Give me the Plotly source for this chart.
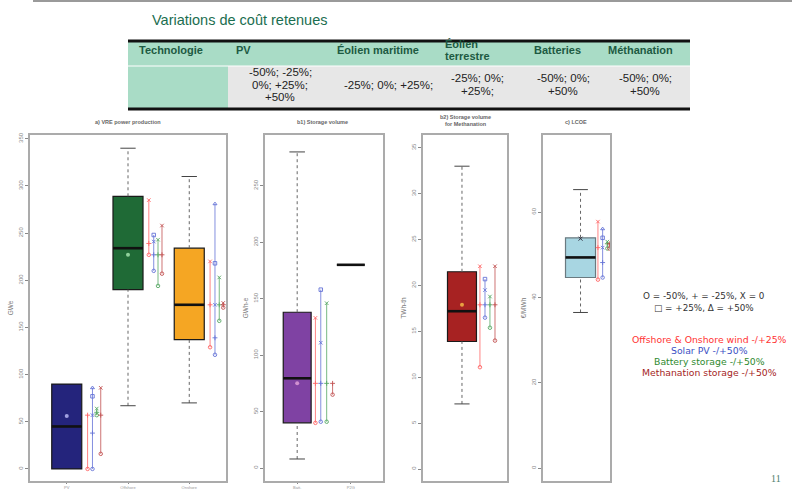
import plotly.graph_objects as go

# ---------------- data ----------------
TABLE_HEADERS = ["Technologie", "PV", "Éolien maritime", "Éolien<br>terrestre", "Batteries", "Méthanation"]
TABLE_VALUES = ["", "-50%; -25%;<br>0%; +25%;<br>+50%", "-25%; 0%; +25%;", "-25%; 0%;<br>+25%;",
                "-50%; 0%;<br>+50%", "-50%; 0%;<br>+50%"]

# a) VRE power production
VRE_CATS = ["PV", "Offshore", "Onshore"]
VRE_Q1 = [0, 190, 137]
VRE_MED = [45, 234, 174]
VRE_Q3 = [90, 289, 234]
VRE_LO = [0, 67, 70]
VRE_HI = [90, 340, 310]
VRE_MEAN = [56, 227, None]
VRE_SENS_WIND = [[0, 57], [227, 239, 285], [129, 174, 220]]
VRE_SENS_PV = [[0, 38, 57, 77, 86], [210, 227, 241, 248], [121, 139, 174, 218, 281]]
VRE_SENS_BATT = [[57, 60, 64], [194, 227, 243], [157, 174, 203]]
VRE_SENS_METH = [[16, 57, 86], [207, 227, 258], [171, 174, 176]]

# b1) Storage volume
STO_CATS = ["Batt.", "P2G"]
STO_Q1 = [40, 180]
STO_MED = [79.5, 180]
STO_Q3 = [138, 180]
STO_LO = [8, 180]
STO_HI = [280, 180]
STO_MEAN = [75, None]
STO_SENS_WIND = [[40, 75, 133]]
STO_SENS_PV = [[41, 75, 111, 158]]
STO_SENS_BATT = [[41, 75, 146]]
STO_SENS_METH = [[65, 75]]

# b2) Storage volume for methanation
METH_Q1 = [13.9]
METH_MED = [17.2]
METH_Q3 = [21.5]
METH_LO = [7.1]
METH_HI = [33.0]
METH_MEAN = [17.9]
METH_SENS_WIND = [[11.1, 17.9, 22.1]]
METH_SENS_PV = [[16.5, 17.9, 19.5, 20.7]]
METH_SENS_BATT = [[15.4, 17.9, 18.8]]
METH_SENS_METH = [[14.0, 17.9, 22.1]]

# c) LCOE
LCOE_Q1 = [44.7]
LCOE_MED = [49.4]
LCOE_Q3 = [54.0]
LCOE_LO = [36.5]
LCOE_HI = [65.3]
LCOE_MEAN = [53.8]
LCOE_SENS_WIND = [[44.2, 51.7, 57.8]]
LCOE_SENS_PV = [[44.7, 48.2, 51.7, 54.0, 56.1]]
LCOE_SENS_BATT = [[51.5, 52.6, 53.1]]
LCOE_SENS_METH = [[51.5, 52.6]]

LEGEND_KEY = ["O = -50%, + = -25%, X = 0", "□ = +25%, Δ = +50%"]
LEGEND_SERIES = ["Offshore & Onshore wind -/+25%", "Solar PV -/+50%",
                 "Battery storage -/+50%", "Methanation storage -/+50%"]

# ---------------- helpers ----------------
W, H = 792, 489


def X(px):
    return px / W


def Y(py):
    return 1 - py / H


SENS_COLORS = ["#ff4a4a", "#4b5bd0", "#3a9a4a", "#b83434"]
LEVEL_SYMBOLS = ["circle-open", "cross-thin-open", "x-thin-open", "square-open", "triangle-up-open"]
FONT = "Liberation Sans, Arial, sans-serif"

fig = go.Figure()


def add_panel(ax, q1, med, q3, lo, hi, mean, colors, box_w, cap_w, sens, offsets,
              line_colors=None, mean_colors=None, mean_symbol="circle"):
    xa = "x" + ax
    ya = "y" + ax
    n = len(q1)
    for i in range(n):
        pos = i + 1
        lc = (line_colors or ["#1a1a1a"] * n)[i]
        flat = q1[i] == q3[i]
        fig.add_trace(go.Box(x=[pos], q1=[q1[i]], median=[med[i]], q3=[q3[i]],
                             lowerfence=[q1[i]], upperfence=[q3[i]], width=box_w,
                             fillcolor=colors[i] if not flat else "rgba(0,0,0,0)",
                             line=dict(color=lc, width=1.2), boxpoints=False,
                             xaxis=xa, yaxis=ya, showlegend=False, hoverinfo="skip"))
        # dotted whiskers and caps
        if hi[i] > q3[i]:
            fig.add_trace(go.Scatter(x=[pos, pos], y=[q3[i], hi[i]], mode="lines",
                                     line=dict(color="#666", width=1, dash="dot"),
                                     xaxis=xa, yaxis=ya, showlegend=False, hoverinfo="skip"))
            fig.add_trace(go.Scatter(x=[pos - cap_w / 2, pos + cap_w / 2], y=[hi[i], hi[i]],
                                     mode="lines", line=dict(color="#444", width=1),
                                     xaxis=xa, yaxis=ya, showlegend=False, hoverinfo="skip"))
        if lo[i] < q1[i]:
            fig.add_trace(go.Scatter(x=[pos, pos], y=[lo[i], q1[i]], mode="lines",
                                     line=dict(color="#666", width=1, dash="dot"),
                                     xaxis=xa, yaxis=ya, showlegend=False, hoverinfo="skip"))
            fig.add_trace(go.Scatter(x=[pos - cap_w / 2, pos + cap_w / 2], y=[lo[i], lo[i]],
                                     mode="lines", line=dict(color="#444", width=1),
                                     xaxis=xa, yaxis=ya, showlegend=False, hoverinfo="skip"))
        # thick median bar
        fig.add_trace(go.Scatter(x=[pos - box_w / 2, pos + box_w / 2], y=[med[i], med[i]],
                                 mode="lines", line=dict(color="#111", width=2.6),
                                 xaxis=xa, yaxis=ya, showlegend=False, hoverinfo="skip"))
        if mean[i] is not None:
            mc = (mean_colors or ["#ccc"] * n)[i]
            fig.add_trace(go.Scatter(x=[pos], y=[mean[i]], mode="markers",
                                     marker=dict(color=mc, size=4, symbol=mean_symbol),
                                     xaxis=xa, yaxis=ya, showlegend=False, hoverinfo="skip"))
    # sensitivity ranges beside each box
    for k, series in enumerate(sens):
        for i, vals in enumerate(series):
            pos = i + 1 + offsets[k]
            vs = sorted(vals)
            fig.add_trace(go.Scatter(
                x=[pos] * len(vs), y=vs, mode="lines+markers",
                line=dict(color=SENS_COLORS[k], width=0.8),
                marker=dict(symbol=LEVEL_SYMBOLS[:len(vs)], size=3.5, color=SENS_COLORS[k],
                            line=dict(color=SENS_COLORS[k], width=0.9)),
                opacity=0.85,
                xaxis=xa, yaxis=ya, showlegend=False, hoverinfo="skip"))


add_panel("", VRE_Q1, VRE_MED, VRE_Q3, VRE_LO, VRE_HI, VRE_MEAN,
          ["#24247c", "#1f6a36", "#f5a623"], 0.49, 0.25,
          [VRE_SENS_WIND, VRE_SENS_PV, VRE_SENS_BATT, VRE_SENS_METH],
          [0.34, 0.42, 0.49, 0.555],
          mean_colors=["#a0a0e0", "#8fd09a", "#fff"])
add_panel("2", STO_Q1, STO_MED, STO_Q3, STO_LO, STO_HI, STO_MEAN,
          ["#7f42a3", "#ffffff"], 0.52, 0.29,
          [STO_SENS_WIND, STO_SENS_PV, STO_SENS_BATT, STO_SENS_METH],
          [0.34, 0.44, 0.55, 0.66],
          mean_colors=["#d090d0", "#fff"])
add_panel("3", METH_Q1, METH_MED, METH_Q3, METH_LO, METH_HI, METH_MEAN,
          ["#a72222"], 0.345, 0.18,
          [METH_SENS_WIND, METH_SENS_PV, METH_SENS_BATT, METH_SENS_METH],
          [0.214, 0.274, 0.333, 0.393],
          mean_colors=["#e8a040"])
add_panel("4", LCOE_Q1, LCOE_MED, LCOE_Q3, LCOE_LO, LCOE_HI, LCOE_MEAN,
          ["#a8d6e2"], 0.448, 0.22,
          [LCOE_SENS_WIND, LCOE_SENS_PV, LCOE_SENS_BATT, LCOE_SENS_METH],
          [0.26, 0.33, 0.40, 0.43],
          line_colors=["#6a7a80"], mean_colors=["#334"], mean_symbol="x-thin-open")

# ---------------- axes ----------------
frame = dict(showline=True, mirror=True, linecolor="#ababab", linewidth=1.6,
             showgrid=False, zeroline=False, automargin=False)
tickfont = dict(family=FONT, size=6, color="#888")

panels = [
    ("", (30, 226), (-12.8, 354), (0.4, 3.6), [0, 50, 100, 150, 200, 250, 300, 350], VRE_CATS, "GWe"),
    ("2", (265, 383), (-11.5, 295), (0.4, 2.6), [0, 50, 100, 150, 200, 250], STO_CATS, "GWh-e"),
    ("3", (423, 507), (-1.3, 36.4), (0.536, 1.536), [0, 5, 10, 15, 20, 25, 30, 35], None, "TWh-th"),
    ("4", (543, 610), (-3.0, 78.1), (0.44, 1.44), [0, 20, 40, 60], None, "€/MWh"),
]
for suf, (x0, x1), yr, xr, yt, cats, ytitle in panels:
    xa = dict(frame, domain=[X(x0), X(x1)], range=list(xr), anchor="y" + suf,
              ticks="outside" if cats else "", ticklen=1, tickcolor="#888",
              tickvals=list(range(1, len(cats) + 1)) if cats else [],
              ticktext=cats if cats else [], ticklabelstandoff=0,
              tickfont=dict(family=FONT, size=4, color="#999"))
    ya = dict(frame, domain=[Y(481), Y(135)], range=list(yr), anchor="x" + suf,
              tickvals=yt, ticks="outside", ticklen=3, tickcolor="#888",
              tickangle=-90, tickfont=tickfont,
              title=dict(text=ytitle, font=dict(family=FONT, size=6.5, color="#777"), standoff=4))
    fig.update_layout(**{"xaxis" + suf: xa, "yaxis" + suf: ya})

# ---------------- panel titles ----------------
panel_titles = [("a) VRE power production", 128, 122), ("b1) Storage volume", 322, 122),
                ("b2) Storage volume<br>for Methanation", 465, 121), ("c) LCOE", 576, 122)]
for txt, px, py in panel_titles:
    fig.add_annotation(x=X(px), y=Y(py), xref="paper", yref="paper", text="<b>" + txt + "</b>",
                       showarrow=False, font=dict(family=FONT, size=5.5, color="#666"),
                       xanchor="center", yanchor="middle")

# ---------------- table ----------------
shapes = []
shapes.append(dict(type="line", xref="paper", yref="paper", x0=X(33), x1=X(792), y0=Y(1), y1=Y(1),
                   line=dict(color="#9a9a9a", width=2)))
shapes.append(dict(type="rect", xref="paper", yref="paper", x0=X(128), x1=X(690), y0=Y(66), y1=Y(42),
                   fillcolor="#a9dcc6", line=dict(width=0), layer="below"))
shapes.append(dict(type="rect", xref="paper", yref="paper", x0=X(128), x1=X(228), y0=Y(108), y1=Y(66),
                   fillcolor="#a9dcc6", line=dict(width=0), layer="below"))
shapes.append(dict(type="rect", xref="paper", yref="paper", x0=X(228), x1=X(690), y0=Y(108), y1=Y(66),
                   fillcolor="#e7e7e7", line=dict(width=0), layer="below"))
for py in (41, 109):
    shapes.append(dict(type="line", xref="paper", yref="paper", x0=X(128), x1=X(690), y0=Y(py), y1=Y(py),
                       line=dict(color="#111", width=3)))
shapes.append(dict(type="line", xref="paper", yref="paper", x0=X(128), x1=X(690), y0=Y(66), y1=Y(66),
                   line=dict(color="#ffffff", width=1)))
fig.update_layout(shapes=shapes)

fig.add_annotation(x=X(150), y=Y(20), xref="paper", yref="paper", text="Variations de coût retenues",
                   showarrow=False, xanchor="left", yanchor="middle",
                   font=dict(family=FONT, size=14.5, color="#1b6e50"))

header_x = [137, 234, 335, 443, 532, 606]
value_x = [178, 280, 388, 478, 563, 645]
for i, h in enumerate(TABLE_HEADERS):
    parts = h.split("<br>")
    n = len(parts)
    for j, part in enumerate(parts):
        py = 50 + (j - (n - 1) / 2) * 13
        fig.add_annotation(x=X(header_x[i]), y=Y(py), xref="paper", yref="paper", text="<b>" + part + "</b>",
                           showarrow=False, xanchor="left", yanchor="middle",
                           font=dict(family=FONT, size=11, color="#1d5a42"))
for i, v in enumerate(TABLE_VALUES):
    if not v:
        continue
    parts = v.split("<br>")
    n = len(parts)
    for j, part in enumerate(parts):
        py = 84.5 + (j - (n - 1) / 2) * 12.5
        fig.add_annotation(x=X(value_x[i]), y=Y(py), xref="paper", yref="paper", text=part,
                           showarrow=False, xanchor="center", yanchor="middle",
                           font=dict(family=FONT, size=11.5, color="#222"))

# ---------------- legend text ----------------
for txt, py in zip(LEGEND_KEY, [296, 308]):
    fig.add_annotation(x=X(704), y=Y(py), xref="paper", yref="paper", text=txt, showarrow=False,
                       xanchor="center", yanchor="middle",
                       font=dict(family="DejaVu Sans, sans-serif", size=8.8, color="#333"))
series_colors = ["#ff3333", "#3b4fc4", "#2f8a2f", "#a52525"]
for txt, c, py in zip(LEGEND_SERIES, series_colors, [339, 350, 361, 372]):
    fig.add_annotation(x=X(709), y=Y(py), xref="paper", yref="paper", text=txt, showarrow=False,
                       xanchor="center", yanchor="middle",
                       font=dict(family="DejaVu Sans, sans-serif", size=9.3, color=c))

fig.add_annotation(x=X(776), y=Y(478), xref="paper", yref="paper", text="11", showarrow=False,
                   xanchor="center", yanchor="middle",
                   font=dict(family="Liberation Serif, DejaVu Serif, serif", size=10, color="#4d7d6b"))

fig.update_layout(width=W, height=H, margin=dict(l=0, r=0, t=0, b=0),
                  paper_bgcolor="white", plot_bgcolor="white", showlegend=False)

fig.write_html("out.html")
